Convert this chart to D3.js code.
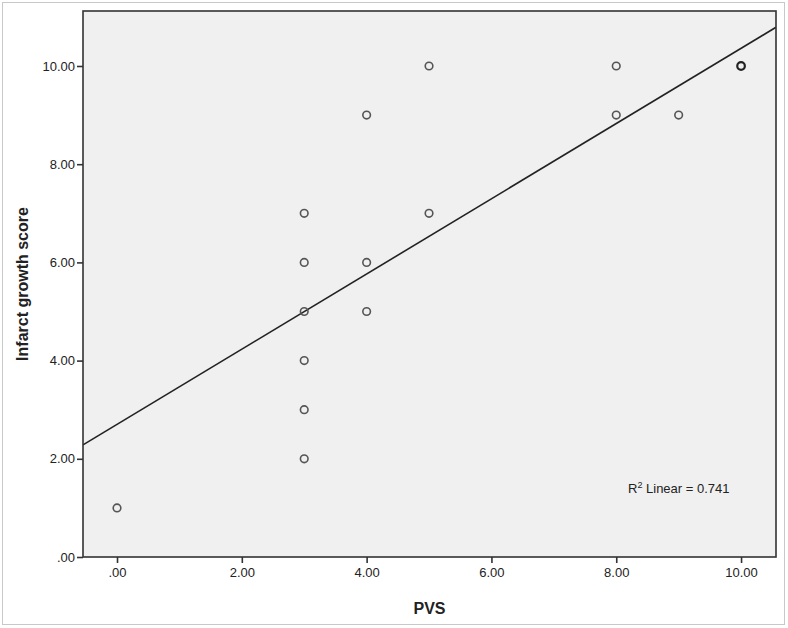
<!DOCTYPE html>
<html>
<head>
<meta charset="utf-8">
<script src="https://cdn.jsdelivr.net/npm/d3@7"></script>
<style>
  body { margin: 0; background: #fff; }
  svg { font-family: "Liberation Sans", Arial, sans-serif; }
  .tick text { fill: #222; font-size: 13px; }
</style>
</head>
<body>
<svg id="chart" width="788" height="628"></svg>
<script>
// PVS vs infarct growth score
const pvs = [0, 3, 3, 3, 3, 3, 3, 4, 4, 4, 5, 5, 8, 8, 9, 10]
const growth = [1, 2, 3, 4, 5, 6, 7, 5, 6, 9, 7, 10, 9, 10, 9, 10]
const xTicks = [0, 2, 4, 6, 8, 10]
const yTicks = [0, 2, 4, 6, 8, 10]
// fit line: [intercept, slope]
const fit = [2.70, 0.766]
const rSquared = 0.741

const svg = d3.select('#chart')
const margin = {top: 11, right: 12, bottom: 71, left: 83}
const width = +svg.attr('width') - margin.left - margin.right
const height = +svg.attr('height') - margin.top - margin.bottom

const fmt = v => v === 0 ? '.00' : d3.format('.2f')(v)

// outer frame
svg.append('rect')
  .attr('x', 2.5).attr('y', 2.5)
  .attr('width', 782).attr('height', 622)
  .attr('fill', 'none')
  .attr('stroke', '#c8c8c8')

const x = d3.scaleLinear().domain([-0.545, 10.56]).range([0, width])
const y = d3.scaleLinear().domain([0, 11.12]).range([height, 0])

const g = svg.append('g').attr('transform', `translate(${margin.left},${margin.top})`)

g.append('rect')
  .attr('width', width).attr('height', height)
  .attr('fill', '#f0f0f0')

const clip = svg.append('defs').append('clipPath').attr('id', 'plot')
clip.append('rect').attr('width', width).attr('height', height)

// regression line
const xs = x.domain()
g.append('line')
  .attr('clip-path', 'url(#plot)')
  .attr('x1', x(xs[0])).attr('y1', y(fit[0] + fit[1] * xs[0]))
  .attr('x2', x(xs[1])).attr('y2', y(fit[0] + fit[1] * xs[1]))
  .attr('stroke', '#222')
  .attr('stroke-width', 1.6)

g.append('g')
  .selectAll('circle')
  .data(pvs.map((v, i) => [v, growth[i]]))
  .enter().append('circle')
  .attr('cx', d => x(d[0]))
  .attr('cy', d => y(d[1]))
  .attr('r', 3.8)
  .attr('fill', 'none')
  .attr('stroke', d => d[0] === 10 ? '#222' : '#555')
  .attr('stroke-width', d => d[0] === 10 ? 2.2 : 1.6)

// plot border
g.append('rect')
  .attr('width', width).attr('height', height)
  .attr('fill', 'none')
  .attr('stroke', '#333')
  .attr('stroke-width', 1.6)

const xAxis = g.append('g')
  .attr('transform', `translate(0,${height})`)
  .call(d3.axisBottom(x).tickValues(xTicks).tickFormat(fmt).tickSize(6).tickPadding(5))
xAxis.select('.domain').remove()
xAxis.selectAll('line').attr('stroke', '#333').attr('stroke-width', 1.6)

const yAxis = g.append('g')
  .call(d3.axisLeft(y).tickValues(yTicks).tickFormat(fmt).tickSize(6).tickPadding(2))
yAxis.select('.domain').remove()
yAxis.selectAll('line').attr('stroke', '#333').attr('stroke-width', 1.6)

svg.append('text')
  .attr('x', margin.left + width / 2)
  .attr('y', 614)
  .attr('text-anchor', 'middle')
  .attr('font-size', 16)
  .attr('font-weight', 'bold')
  .attr('fill', '#222')
  .text('PVS')

svg.append('text')
  .attr('transform', `translate(28,${margin.top + height / 2}) rotate(-90)`)
  .attr('text-anchor', 'middle')
  .attr('font-size', 16)
  .attr('font-weight', 'bold')
  .attr('fill', '#222')
  .text('Infarct growth score')

const r2 = g.append('text')
  .attr('x', 545).attr('y', 482)
  .attr('font-size', 13)
  .attr('fill', '#222')
r2.append('tspan').text('R')
r2.append('tspan').attr('dy', -5).attr('font-size', 9).text('2')
r2.append('tspan').attr('dy', 5).text(' Linear = ' + rSquared)
</script>
</body>
</html>
